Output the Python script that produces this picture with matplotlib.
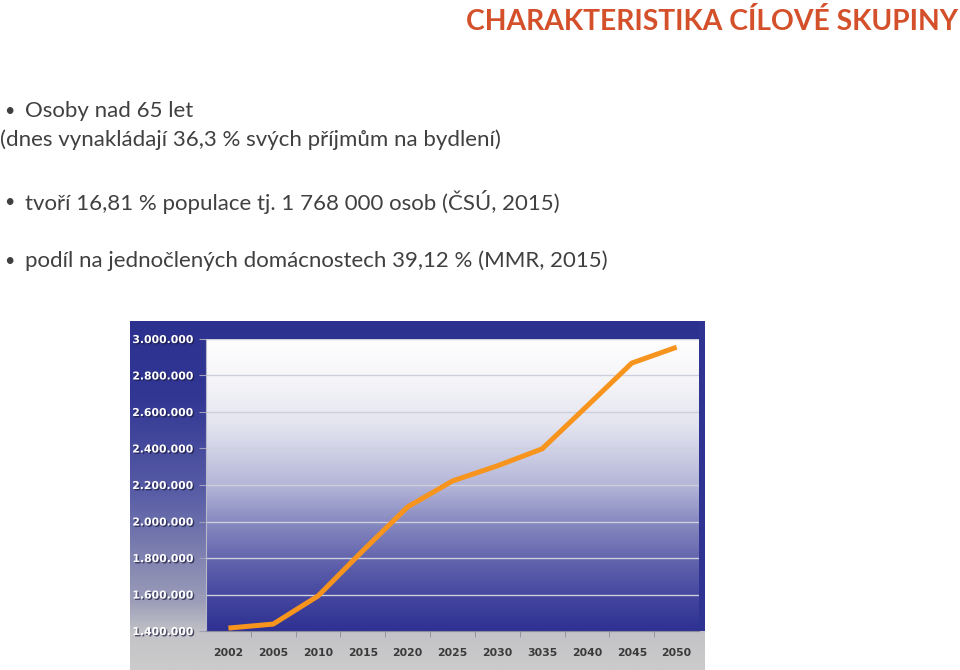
import matplotlib
matplotlib.use('Agg')
import matplotlib.pyplot as plt
import matplotlib.patheffects as pe
from matplotlib.colors import LinearSegmentedColormap
from matplotlib.ticker import FuncFormatter, FixedLocator
import numpy as np

# data (persons aged 65+)
years = ['2002', '2005', '2010', '2015', '2020', '2025', '2030', '3035', '2040', '2045', '2050']
persons = [1416000, 1438000, 1592000, 1840000, 2080000, 2222000, 2305000, 2398000, 2632000, 2868000, 2955000]
yticks = [1400000, 1600000, 1800000, 2000000, 2200000, 2400000, 2600000, 2800000, 3000000]

title = 'CHARAKTERISTIKA CÍLOVÉ SKUPINY'
lines = [
    ('Osoby nad 65 let', True, 111),
    ('(dnes vynakládají 36,3 % svých příjmům na bydlení)', False, 140),
    ('tvoří 16,81 % populace tj. 1 768 000 osob (ČSÚ, 2015)', True, 202),
    ('podíl na jednočlených domácnostech 39,12 % (MMR, 2015)', True, 261),
]

W, H = 960, 670
fig = plt.figure(figsize=(W / 100, H / 100), dpi=100)
fig.patch.set_facecolor('white')

def fx(px):
    return px / W

def fy(py):
    return 1 - py / H

def fit_width(txt, target):
    r = fig.canvas.get_renderer()
    w = txt.get_window_extent(r).width
    txt.set_fontsize(txt.get_fontsize() * target / w)

body_font = ['Liberation Sans Narrow', 'Lato', 'DejaVu Sans']

t = fig.text(fx(958), fy(22), title, ha='right', va='center', color='#d4502a',
             fontsize=17, fontweight='bold', family=body_font)
fit_width(t, 493)

texts = []
for s, bullet, y in lines:
    if bullet:
        fig.text(fx(4), fy(y), '•', ha='left', va='center', color='#404040',
                 fontsize=13, family=body_font)
        tt = fig.text(fx(25), fy(y), s, ha='left', va='center', color='#404040',
                      fontsize=14, family=body_font)
    else:
        tt = fig.text(fx(0), fy(y), s, ha='left', va='center', color='#404040',
                      fontsize=14, family=body_font)
    texts.append(tt)
fit_width(texts[2], 535)
for tt in texts:
    tt.set_fontsize(texts[2].get_fontsize())

# chart frame background: navy top fading to grey
bg = fig.add_axes([fx(130), 0, fx(575), (H - 321) / H])
bg_cmap = LinearSegmentedColormap.from_list('bg', [
    (0.0, '#2c3190'), (0.22, '#323794'), (0.5, '#5a5ea6'),
    (0.8, '#9a9cb8'), (0.9, '#c4c4c8'), (1.0, '#cbcbcb')])
bg.imshow(np.linspace(0, 1, 256).reshape(-1, 1), aspect='auto', cmap=bg_cmap,
          extent=[0, 1, 0, 1], origin='upper')
# right edge strip stays navy down to the plot bottom
bg.add_patch(plt.Rectangle((1 - 6 / 575, (670 - 631) / 349), 6 / 575, (631 - 321) / 349,
                           color='#2f3392', lw=0, zorder=2))
bg.set_xlim(0, 1)
bg.set_ylim(0, 1)
bg.set_axis_off()

ax = fig.add_axes([fx(206), fy(631), fx(699 - 206), (631 - 339) / H])
x = np.arange(len(years))
ax.set_xlim(-0.5, len(years) - 0.5)
ax.set_ylim(1400000, 3000000)

plot_cmap = LinearSegmentedColormap.from_list('plot', [
    (0.0, '#ffffff'), (0.15, '#f4f4f8'), (0.3, '#e2e3ef'), (0.5, '#b4b6d8'),
    (0.62, '#8a8cc2'), (0.75, '#6466ae'), (0.88, '#45479f'), (1.0, '#2e3192')])
ax.imshow(np.linspace(0, 1, 256).reshape(-1, 1), aspect='auto', cmap=plot_cmap,
          extent=[-0.5, len(years) - 0.5, 1400000, 3000000], origin='upper', zorder=0)

for v in yticks[1:]:
    ax.axhline(v, color='#cdd0dc', lw=1.0, zorder=1)

ax.plot(x, persons, color='#f7941d', lw=3.6, solid_capstyle='butt', zorder=3)

ax.set_yticks(yticks)
ax.yaxis.set_major_formatter(FuncFormatter(lambda v, p: f'{v:,.0f}'.replace(',', '.')))
ax.set_xticks(x)
ax.set_xticklabels(years)
ax.xaxis.set_minor_locator(FixedLocator(np.arange(0.5, len(years) - 1, 1)))
ax.tick_params(axis='x', which='major', length=0, pad=12)
ax.tick_params(axis='x', which='minor', length=4, color='#8a8a9a', direction='out')
ax.tick_params(axis='y', length=5, color='#a0a0b8', pad=4)

shadow = [pe.SimplePatchShadow(offset=(1, -1), shadow_rgbFace='#1a1a40', alpha=0.7), pe.Normal()]
for lab in ax.get_yticklabels():
    lab.set_color('white')
    lab.set_fontweight('bold')
    lab.set_fontsize(7.8)
    lab.set_family('DejaVu Sans')
    lab.set_path_effects(shadow)
for lab in ax.get_xticklabels():
    lab.set_color('#3a3a3a')
    lab.set_fontweight('bold')
    lab.set_fontsize(7.8)
    lab.set_family('DejaVu Sans')

for sp in ['top', 'right']:
    ax.spines[sp].set_visible(False)
ax.spines['left'].set_color('#b8bacc')
ax.spines['bottom'].set_color('#8a8a9a')

fig.savefig('out.png', dpi=100)
